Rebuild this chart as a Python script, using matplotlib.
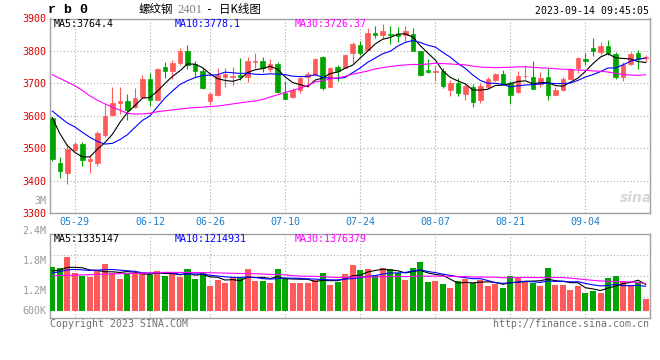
import matplotlib
matplotlib.use('Agg')
import matplotlib.pyplot as plt
import numpy as np
import pandas as pd

# rb0 daily bars, 2023-05-24 .. 2023-09-14
opens = [3594, 3455, 3424, 3494, 3512, 3460, 3455, 3540, 3601, 3638,
         3646, 3627, 3658, 3713, 3650, 3749, 3739, 3763, 3800, 3761,
         3738, 3645, 3665, 3719, 3719, 3726, 3718, 3765, 3769, 3744,
         3759, 3670, 3658, 3680, 3721, 3726, 3780, 3688, 3749, 3748,
         3794, 3819, 3804, 3856, 3848, 3853, 3851, 3848, 3853, 3799,
         3741, 3736, 3738, 3680, 3700, 3667, 3690, 3650, 3688, 3711,
         3728, 3700, 3672, 3722, 3721, 3698, 3718, 3665, 3680, 3714,
         3748, 3774, 3810, 3797, 3814, 3792, 3718, 3759, 3794, 3778]
highs = [3596, 3472, 3513, 3518, 3520, 3479, 3553, 3635, 3690, 3688,
         3667, 3685, 3726, 3731, 3746, 3765, 3772, 3810, 3817, 3769,
         3746, 3673, 3746, 3746, 3751, 3777, 3782, 3795, 3782, 3775,
         3766, 3706, 3687, 3721, 3736, 3779, 3785, 3751, 3756, 3792,
         3827, 3830, 3870, 3878, 3883, 3876, 3873, 3878, 3870, 3799,
         3774, 3756, 3746, 3711, 3716, 3700, 3698, 3700, 3721, 3731,
         3741, 3706, 3739, 3756, 3769, 3736, 3746, 3690, 3721, 3746,
         3782, 3795, 3840, 3827, 3835, 3797, 3766, 3797, 3804, 3787]
lows = [3460, 3409, 3389, 3492, 3445, 3424, 3445, 3535, 3599, 3604,
        3587, 3624, 3655, 3629, 3648, 3716, 3712, 3756, 3745, 3721,
        3682, 3632, 3660, 3690, 3695, 3711, 3703, 3746, 3734, 3736,
        3670, 3652, 3655, 3670, 3690, 3724, 3680, 3688, 3706, 3746,
        3763, 3787, 3802, 3841, 3838, 3822, 3827, 3832, 3799, 3723,
        3731, 3706, 3685, 3662, 3662, 3650, 3627, 3640, 3685, 3706,
        3695, 3635, 3670, 3713, 3681, 3690, 3650, 3663, 3676, 3713,
        3733, 3756, 3784, 3787, 3787, 3713, 3706, 3756, 3744, 3766]
closes = [3467, 3429, 3496, 3512, 3462, 3466, 3548, 3598, 3640, 3645,
          3619, 3655, 3713, 3650, 3743, 3738, 3763, 3800, 3756, 3738,
          3685, 3667, 3726, 3729, 3724, 3718, 3769, 3769, 3748, 3759,
          3673, 3652, 3680, 3716, 3728, 3774, 3685, 3748, 3739, 3787,
          3822, 3794, 3856, 3848, 3861, 3848, 3846, 3861, 3799, 3726,
          3736, 3738, 3692, 3700, 3670, 3692, 3642, 3692, 3713, 3728,
          3698, 3665, 3724, 3724, 3681, 3716, 3665, 3680, 3713, 3744,
          3779, 3769, 3800, 3814, 3794, 3718, 3758, 3792, 3774, 3780]
volumes = [1687000, 1660000, 1887000, 1567000, 1507000, 1467000, 1620000, 1747000, 1567000, 1440000,
           1553000, 1553000, 1587000, 1513000, 1600000, 1487000, 1540000, 1467000, 1640000, 1440000,
           1560000, 1300000, 1420000, 1360000, 1480000, 1460000, 1640000, 1387000, 1387000, 1360000,
           1640000, 1440000, 1360000, 1360000, 1360000, 1413000, 1560000, 1320000, 1367000, 1540000,
           1720000, 1620000, 1640000, 1520000, 1660000, 1640000, 1553000, 1420000, 1660000, 1780000,
           1380000, 1400000, 1340000, 1260000, 1400000, 1440000, 1353000, 1420000, 1287000, 1340000,
           1260000, 1500000, 1480000, 1380000, 1353000, 1300000, 1660000, 1320000, 1320000, 1220000,
           1287000, 1160000, 1200000, 1160000, 1460000, 1500000, 1400000, 1320000, 1380000, 1040000]

# sessions before the window, only there so the moving averages start where the chart's do
prev_closes = [3780, 3820, 3860, 3900, 3960, 3960, 3930, 3940, 3930, 3900,
               3734, 3700, 3590, 3594, 3657, 3682, 3719, 3675, 3689, 3636,
               3618, 3677, 3632, 3627, 3621, 3674, 3681, 3617, 3531]
prev_volumes = [1520000, 1747000, 1427000, 1367000, 1327000, 1480000, 1607000, 1427000, 1300000, 1413000,
                1413000, 1447000, 1373000, 1460000, 1347000, 1560000, 1490000, 1660000, 1460000, 1582000,
                1420000, 1530000, 1470000, 1600000, 1577000, 1580000, 1620000, 1550000, 1563000]

holidays = ['2023-06-22', '2023-06-23']
tick_dates = ['05-29', '06-12', '06-26', '07-10', '07-24', '08-07', '08-21', '09-04']
price_ticks = [3300, 3400, 3500, 3600, 3700, 3800, 3900]
vol_tick_labels = ['3M', '2.4M', '1.8M', '1.2M', '600K']
vol_tick_values = [3000000, 2400000, 1800000, 1200000, 600000]
price_ma_text = ['MA5:3764.4', 'MA10:3778.1', 'MA30:3726.37']
vol_ma_text = ['MA5:1335147', 'MA10:1214931', 'MA30:1376379']

RED = '#ff5a5a'
GREEN = '#00a400'
MA_COLORS = ['black', '#0000ff', '#ff00ff']
GRID = dict(color='#aaaaaa', linestyle=(0, (1, 2)), linewidth=0.8)
MONO = 'DejaVu Sans Mono'
W, H = 660.0, 360.0

plt.rcParams['font.family'] = [MONO]


def fx(px):
    return px / W


def fy(py):
    return 1 - py / H


dates = pd.bdate_range('2023-05-24', '2023-09-14')
dates = dates[~dates.isin(pd.to_datetime(holidays))]
labels = dates.strftime('%m-%d')
x = np.arange(len(dates))
tick_pos = [int(np.where(labels == d)[0][0]) for d in tick_dates]

o = np.array(opens)
c = np.array(closes)
colors = np.where(c >= o, RED, GREEN)

n_prev = len(prev_closes)
all_close = pd.Series(prev_closes + closes)
all_vol = pd.Series(prev_volumes + volumes)
price_mas = [all_close.rolling(n).mean().values[n_prev:] for n in (5, 10, 30)]
vol_mas = [all_vol.rolling(n).mean().values[n_prev:] for n in (5, 10, 30)]

fig = plt.figure(figsize=(6.6, 3.6), dpi=100)
ax = fig.add_axes([fx(50), fy(213), fx(600), 194.5 / H])
axv = fig.add_axes([fx(50), fy(318), fx(600), 84 / H])

# ---- price panel ----
ax.vlines(x, lows, highs, colors=colors, linewidth=0.8, zorder=2)
ax.bar(x, np.abs(c - o), bottom=np.minimum(o, c), width=0.6, color=colors,
       edgecolor=colors, linewidth=0.5, zorder=3)
for ma, col in zip(price_mas, MA_COLORS):
    ax.plot(x, ma, color=col, linewidth=0.8, zorder=4)

ax.set_xlim(-0.31, 79.59)
ax.set_ylim(3300, 3900)
ax.set_yticks(price_ticks)
ax.set_xticks(tick_pos)
ax.set_xticklabels(tick_dates)
ax.grid(True, **GRID)
ax.set_axisbelow(True)
ax.tick_params(axis='y', length=0, pad=2.5, labelcolor='#e00000', labelsize=7.2)
ax.tick_params(axis='x', length=0, pad=3, labelcolor='#1a7fd0', labelsize=7.2)

# ---- volume panel ----
vol_base = 800000
v = np.array(volumes)
axv.bar(x, v - vol_base, bottom=vol_base, width=0.8, color=colors, linewidth=0, zorder=3)
for ma, col in zip(vol_mas, MA_COLORS):
    axv.plot(x, ma, color=col, linewidth=0.8, zorder=4)
axv.set_xlim(ax.get_xlim())
axv.set_ylim(654000, 2340000)
y0, y1 = axv.get_ylim()
axv.set_yticks(np.linspace(y0, y1, 5)[1:4])
axv.set_xticks(tick_pos)
axv.set_yticklabels([])
axv.set_xticklabels([])
axv.tick_params(length=0)
axv.grid(True, **GRID)
axv.set_axisbelow(True)
for lab, val in zip(vol_tick_labels, vol_tick_values):
    axv.text(-0.006, max(val, vol_base), lab, transform=axv.get_yaxis_transform(),
             ha='right', va='center', fontsize=7.2, color='#999999', clip_on=False)

for a in (ax, axv):
    for s in a.spines.values():
        s.set_color('#a0a0a0')
        s.set_linewidth(1)

# ---- texts ----
for txt, col, px in zip(price_ma_text, MA_COLORS, (54, 174.5, 294.5)):
    fig.text(fx(px), fy(24), txt, color=col, fontsize=7.2, va='center', ha='left')
for txt, col, px in zip(vol_ma_text, MA_COLORS, (54, 174.5, 294.5)):
    fig.text(fx(px), fy(239), txt, color=col, fontsize=7.2, va='center', ha='left')

fig.text(fx(48), fy(10), 'r b 0', fontsize=9.5, fontweight='bold',
         family='Liberation Mono', va='center', ha='left')
fig.text(fx(139), fy(9.5), '螺纹钢', fontsize=8.3, family=['Noto Sans CJK SC'],
         va='center', ha='left')
fig.text(fx(177.5), fy(10), '2401', fontsize=9, family='Liberation Serif',
         color='#808080', va='center', ha='left')
fig.text(fx(206), fy(9.5), '-', fontsize=8.5, va='center', ha='left')
fig.text(fx(219), fy(9.5), '日K线图', fontsize=8.3, family=['Noto Sans CJK SC'],
         va='center', ha='left')
fig.text(fx(649), fy(11.5), '2023-09-14 09:45:05', fontsize=7.1, va='center', ha='right')

fig.text(fx(636), fy(198), 'sina', fontsize=10, fontweight='bold', style='italic',
         color='#d6d6d6', family='DejaVu Sans', va='center', ha='center')

fig.text(fx(50), fy(324), 'Copyright 2023 SINA.COM', fontsize=7.1, color='#707070',
         va='center', ha='left')
fig.text(fx(649), fy(324), 'http://finance.sina.com.cn', fontsize=7.1, color='#707070',
         va='center', ha='right')

fig.savefig('out.png', dpi=100, facecolor='white')
